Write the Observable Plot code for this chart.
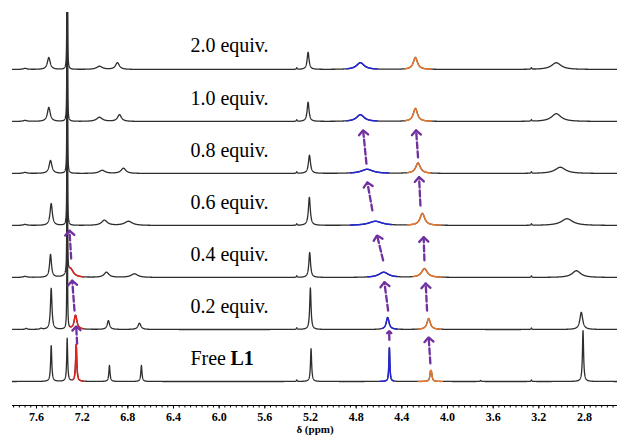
<!DOCTYPE html>
<html><head><meta charset="utf-8">
<script src="https://cdn.jsdelivr.net/npm/d3@7"></script>
<script src="https://cdn.jsdelivr.net/npm/@observablehq/plot@0.6"></script>
<style>body{margin:0;background:#fff}</style>
</head><body><div id="chart"></div>
<script>
// ---- DATA ----
// spectrum labels, bottom (Free L1) to top (2.0 equiv.)
const spectrumLabels = ["Free", "0.2 equiv.", "0.4 equiv.", "0.6 equiv.", "0.8 equiv.", "1.0 equiv.", "2.0 equiv."];
const axisTitle = "δ (ppm)";
// peaks of each spectrum: [ppm, height, half width (ppm)]
const commonPeaks = [[5.32, 0.03, 0.004], [3.265, 0.03, 0.004]];
const peaksFree = [[7.471,0.69,0.006],[7.331,0.83,0.005],[7.252,0.71,0.006],[6.961,0.31,0.006],[6.681,0.31,0.006],[5.195,0.63,0.006],[4.509,0.65,0.005],[4.149,0.14,0.007],[4.141,0.14,0.007],[3.71,0.02,0.005],[2.813,0.98,0.006]];
const peaks02 = [[7.69,0.02,0.01],[7.56,0.02,0.01],[7.471,0.79,0.008],[7.331,12,0.0012],[7.258,0.27,0.015],[6.970,0.17,0.012],[6.698,0.12,0.015],[5.201,0.80,0.007],[4.524,0.23,0.015],[4.165,0.21,0.018],[2.828,0.33,0.015]];
const peaks04 = [[7.70,0.02,0.02],[7.477,0.44,0.01],[7.331,12,0.0012],[7.302,0.16,0.03],[6.987,0.10,0.025],[6.742,0.07,0.035],[5.207,0.48,0.009],[4.559,0.10,0.05],[4.202,0.17,0.03],[2.871,0.13,0.045]];
const peaks06 = [[7.70,0.02,0.02],[7.471,0.42,0.012],[7.331,12,0.0012],[7.005,0.10,0.03],[6.794,0.08,0.04],[5.210,0.54,0.01],[4.631,0.08,0.07],[4.220,0.23,0.025],[2.953,0.13,0.06]];
const peaks08 = [[7.70,0.02,0.02],[7.477,0.25,0.015],[7.331,12,0.0012],[7.025,0.06,0.03],[6.838,0.10,0.025],[5.209,0.35,0.011],[4.704,0.08,0.06],[4.258,0.20,0.025],[3.012,0.12,0.055]];
const peaks10 = [[7.70,0.02,0.02],[7.492,0.27,0.015],[7.331,12,0.0012],[7.048,0.08,0.03],[6.873,0.13,0.02],[5.221,0.37,0.01],[4.763,0.13,0.04],[4.281,0.25,0.022],[3.047,0.15,0.05]];
const peaks20 = [[7.70,0.02,0.02],[7.492,0.23,0.015],[7.331,12,0.0012],[7.048,0.06,0.03],[6.891,0.13,0.02],[5.221,0.33,0.01],[4.763,0.13,0.04],[4.281,0.23,0.022],[3.047,0.13,0.05]];
const spectraPeaks = [peaksFree, peaks02, peaks04, peaks06, peaks08, peaks10, peaks20];
// highlighted ppm ranges [from, to] per spectrum
const redRanges = [[7.28,7.19],[7.30,7.19],[7.311,7.19],null,null,null,null];
const blueRanges = [[4.59,4.47],[4.57,4.44],[4.70,4.44],[4.85,4.49],[4.85,4.52],[4.88,4.62],[4.88,4.62]];
const orangeRanges = [[4.255,4.045],[4.255,4.056],[4.30,4.05],[4.35,4.06],[4.35,4.15],[4.37,4.145],[4.37,4.145]];
// shift arrows: [ppm from, level from, ppm to, level to]
const arrowsShift = [
  [7.244,0.73,7.252,1.06],[7.267,1.365,7.287,1.94],[7.296,2.365,7.311,2.90],
  [4.509,0.80,4.511,0.97],[4.520,1.365,4.553,1.91],[4.564,2.33,4.617,2.81],[4.658,3.29,4.702,3.83],[4.710,4.19,4.739,4.83],
  [4.150,0.35,4.165,0.85],[4.179,1.365,4.191,1.885],[4.202,2.33,4.209,2.775],[4.237,3.385,4.249,3.93],[4.258,4.31,4.275,4.83]
];
// axis ticks
const majorTicks = d3.range(19, 6, -1).map(i => +(i * 0.4).toFixed(1));
const minorTicks = d3.range(156, 50, -1).map(i => i / 20);

// ---- build curves ----
const xMax = 7.81, xMin = 2.511;
const grid = d3.range(xMax, xMin, -0.001);
const rows = [];
spectraPeaks.forEach((pk, level) => {
  const peaks = pk.concat(commonPeaks);
  const xs = grid.concat(peaks.map(p => p[0])).sort((a, b) => b - a);
  for (const x of xs) {
    let v = 0;
    for (const [c, h, w] of peaks) { const t = (x - c) / w; v += h / (1 + t * t); }
    rows.push({ppm: x, y: level + v, level});
  }
});
const inRange = (ranges) => rows.filter(r => { const rg = ranges[r.level]; return rg && r.ppm <= rg[0] && r.ppm >= rg[1]; });
const levels = spectrumLabels.map((label, level) => ({label, level}));
const arrows = arrowsShift.map(([a, b, c, d]) => ({x1: a, y1: b, x2: c, y2: d}));

const labelX = 6.252;
const serif = "'Liberation Serif', 'Times New Roman', serif";

const plot = Plot.plot({
  width: 617, height: 435,
  marginTop: 12, marginBottom: 30, marginLeft: 12, marginRight: 0,
  style: {fontFamily: serif, background: "#fff", color: "#000"},
  x: {domain: [xMax, xMin]},
  y: {domain: [-0.4615, 7.096], axis: null},
  marks: [
    Plot.line(rows, {x: "ppm", y: "y", z: "level", stroke: "#2e2e2e", strokeWidth: 1.3, clip: true}),
    Plot.line(inRange(redRanges), {x: "ppm", y: "y", z: "level", stroke: "#e3201b", strokeWidth: 1.5, clip: true}),
    Plot.line(inRange(blueRanges), {x: "ppm", y: "y", z: "level", stroke: "#2424d8", strokeWidth: 1.5, clip: true}),
    Plot.line(inRange(orangeRanges), {x: "ppm", y: "y", z: "level", stroke: "#e8772e", strokeWidth: 1.5, clip: true}),
    Plot.arrow(arrows, {x1: "x1", y1: "y1", x2: "x2", y2: "y2", stroke: "#7030a0", strokeWidth: 2.3, headLength: 4.2, headAngle: 90}),
    Plot.text(levels, {x: () => labelX, y: d => d.level + 0.45, text: "label", textAnchor: "start", fontSize: 20, fontFamily: serif, fill: "#000"}),
    Plot.text(levels.filter(d => d.level === 0), {x: () => labelX, y: d => d.level + 0.45, text: () => "L1", dx: 40, textAnchor: "start", fontSize: 20, fontWeight: "bold", fontFamily: serif, fill: "#000"}),
    Plot.frame({anchor: "bottom", stroke: "#000"}),
    Plot.axisX({ticks: minorTicks, tickSize: 2.5, tickFormat: () => "", label: null}),
    Plot.axisX({ticks: majorTicks, tickSize: 3.5, tickPadding: 3.5, tickFormat: d => d.toFixed(1), fontSize: 12, fontWeight: "bold", label: null}),
    Plot.text([axisTitle], {frameAnchor: "bottom", dy: 27.5, text: d => d, fontSize: 11, fontWeight: "bold", fontFamily: serif, fill: "#000"})
  ]
});

// split arrows: dashed shaft, solid head
plot.querySelectorAll('g[aria-label="arrow"] path').forEach(p => {
  const d = p.getAttribute("d");
  const parts = d.split(/(?=M)/);
  if (parts.length >= 2) {
    const head = p.cloneNode();
    p.setAttribute("d", parts[0]);
    p.setAttribute("stroke-dasharray", "6,3");
    head.setAttribute("d", parts.slice(1).join(""));
    p.after(head);
  }
});
document.getElementById("chart").appendChild(plot);
</script>
</body></html>
